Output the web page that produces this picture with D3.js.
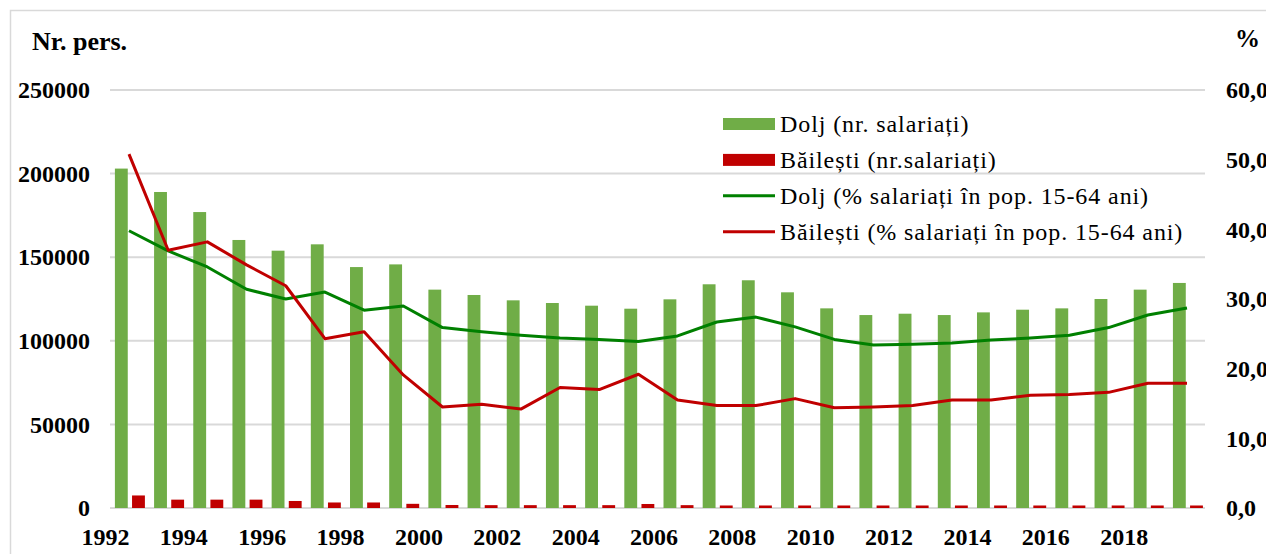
<!DOCTYPE html>
<html>
<head>
<meta charset="utf-8">
<script src="https://cdn.jsdelivr.net/npm/d3@7"></script>
<style>
  body { margin: 0; background: #fff; }
  text { font-family: "Liberation Serif", "Times New Roman", serif; fill: #000; }
</style>
</head>
<body>
<script>
// Data
var years = d3.range(1992, 2020);
var doljCount = [203000, 189000, 177000, 160300, 153900, 157700, 144100, 145700, 130600, 127400,
                 124200, 122600, 121000, 119200, 124800, 133800, 136200, 129000, 119400, 115400,
                 116200, 115400, 117000, 118600, 119400, 125000, 130600, 134600];
var bailestiCount = [7500, 5000, 5000, 5000, 4200, 3300, 3300, 2500, 1800, 1700,
                     1700, 1700, 1700, 2400, 1700, 1500, 1500, 1500, 1500, 1500,
                     1500, 1500, 1500, 1500, 1500, 1500, 1500, 1500];
var doljPct = [39.8, 36.9, 34.6, 31.4, 30.0, 31.0, 28.4, 29.0, 25.9, 25.3,
               24.8, 24.4, 24.2, 23.9, 24.7, 26.7, 27.4, 26.0, 24.2, 23.4,
               23.5, 23.7, 24.1, 24.4, 24.8, 25.9, 27.7, 28.7];
var bailestiPct = [50.8, 37.0, 38.2, 34.9, 31.9, 24.3, 25.3, 19.1, 14.5, 14.9,
                   14.2, 17.3, 17.0, 19.2, 15.5, 14.7, 14.7, 15.7, 14.4, 14.5,
                   14.7, 15.5, 15.5, 16.2, 16.3, 16.6, 17.9, 17.9];
var leftTicks = [0, 50000, 100000, 150000, 200000, 250000];
var rightTicks = [0, 10, 20, 30, 40, 50, 60];
var xLabels = d3.range(1992, 2020, 2);
var legendLabels = ["Dolj (nr. salariați)", "Băilești (nr.salariați)",
                    "Dolj (% salariați în pop. 15-64 ani)", "Băilești (% salariați în pop. 15-64 ani)"];

var width = 1266, height = 554;
var serif = '"Liberation Serif", "Times New Roman", serif';
var green = "#70ad47", red = "#c00000", lineGreen = "#008000", lineRed = "#c00000";

var svg = d3.select("body").append("svg")
    .attr("width", width)
    .attr("height", height);

// outer chart border
svg.append("rect")
    .attr("x", 10.5).attr("y", 10.5)
    .attr("width", 1400).attr("height", 700)
    .attr("fill", "none")
    .attr("stroke", "#d9d9d9")
    .attr("stroke-width", 1.5);

// scales
var x = d3.scaleBand().domain(years).range([109.4, 1206.6]).padding(0);
var x1 = d3.scaleBand().domain(["dolj", "bailesti"]).range([5.5, 35.5]).paddingInner(0.25);
var yLeft = d3.scaleLinear().domain([0, 250000]).range([508, 90]);
var yRight = d3.scaleLinear().domain([0, 60]).range([508, 90]);

// gridlines
svg.append("g")
  .selectAll("line")
  .data(leftTicks)
  .join("line")
    .attr("x1", 110).attr("x2", 1205)
    .attr("y1", function(d) { return yLeft(d); })
    .attr("y2", function(d) { return yLeft(d); })
    .attr("stroke", "#d9d9d9")
    .attr("stroke-width", 2);

// bars
var groups = svg.append("g")
  .selectAll("g")
  .data(years)
  .join("g")
    .attr("transform", function(d) { return "translate(" + x(d) + ",0)"; });

groups.append("rect")
    .attr("x", x1("dolj"))
    .attr("width", x1.bandwidth())
    .attr("y", function(d, i) { return yLeft(doljCount[i]); })
    .attr("height", function(d, i) { return yLeft(0) - yLeft(doljCount[i]); })
    .attr("fill", green);

groups.append("rect")
    .attr("x", x1("bailesti"))
    .attr("width", x1.bandwidth())
    .attr("y", function(d, i) { return yLeft(bailestiCount[i]); })
    .attr("height", function(d, i) { return yLeft(0) - yLeft(bailestiCount[i]); })
    .attr("fill", red);

// lines
var line = d3.line()
    .x(function(d, i) { return x(years[i]) + x.bandwidth() / 2; })
    .y(function(d) { return yRight(d); });

svg.append("path")
    .datum(doljPct)
    .attr("d", line)
    .attr("fill", "none")
    .attr("stroke", lineGreen)
    .attr("stroke-width", 3)
    .attr("stroke-linejoin", "round");

svg.append("path")
    .datum(bailestiPct)
    .attr("d", line)
    .attr("fill", "none")
    .attr("stroke", lineRed)
    .attr("stroke-width", 3)
    .attr("stroke-linejoin", "round");

// axes
var fmtLocale = d3.formatLocale({ decimal: ",", thousands: "", grouping: [3], currency: ["", ""] });

var leftAxis = svg.append("g")
    .attr("transform", "translate(110,0)")
    .call(d3.axisLeft(yLeft).tickValues(leftTicks).tickSize(0).tickPadding(20).tickFormat(d3.format("d")));

var rightAxis = svg.append("g")
    .attr("transform", "translate(1206,0)")
    .call(d3.axisRight(yRight).tickValues(rightTicks).tickSize(0).tickPadding(20).tickFormat(fmtLocale.format(".1f")));

var bottomAxis = svg.append("g")
    .attr("transform", "translate(" + (-x.bandwidth() / 2 - 4) + ",508)")
    .call(d3.axisBottom(x).tickValues(xLabels).tickSize(0).tickPadding(20));

[leftAxis, rightAxis, bottomAxis].forEach(function(a) {
  a.select(".domain").remove();
  a.selectAll("text")
    .style("font-family", serif)
    .style("font-size", "24px")
    .style("font-weight", "bold")
    .attr("fill", "#000");
});

// axis titles
svg.append("text")
    .attr("x", 32).attr("y", 50)
    .style("font-family", serif)
    .style("font-size", "26px")
    .style("font-weight", "bold")
    .text("Nr. pers.");

svg.append("text")
    .attr("x", 1235).attr("y", 47)
    .style("font-family", serif)
    .style("font-size", "25px")
    .style("font-weight", "bold")
    .text("%");

// legend
var legend = svg.append("g").attr("transform", "translate(723,0)");
var legendY = [124, 159.9, 195.8, 231.7];

legend.append("rect").attr("x", 0).attr("y", legendY[0] - 6).attr("width", 52).attr("height", 12).attr("fill", green);
legend.append("rect").attr("x", 0).attr("y", legendY[1] - 6).attr("width", 52).attr("height", 12).attr("fill", red);
legend.append("line").attr("x1", 0).attr("x2", 52).attr("y1", legendY[2]).attr("y2", legendY[2])
    .attr("stroke", lineGreen).attr("stroke-width", 3);
legend.append("line").attr("x1", 0).attr("x2", 52).attr("y1", legendY[3]).attr("y2", legendY[3])
    .attr("stroke", lineRed).attr("stroke-width", 3);

legend.selectAll("text.lbl")
  .data(legendLabels)
  .join("text")
    .attr("class", "lbl")
    .attr("x", 57)
    .attr("y", function(d, i) { return legendY[i] + 8; })
    .style("font-family", serif)
    .style("font-size", "24px")
    .style("letter-spacing", "0.9px")
    .text(function(d) { return d; });
</script>
</body>
</html>
